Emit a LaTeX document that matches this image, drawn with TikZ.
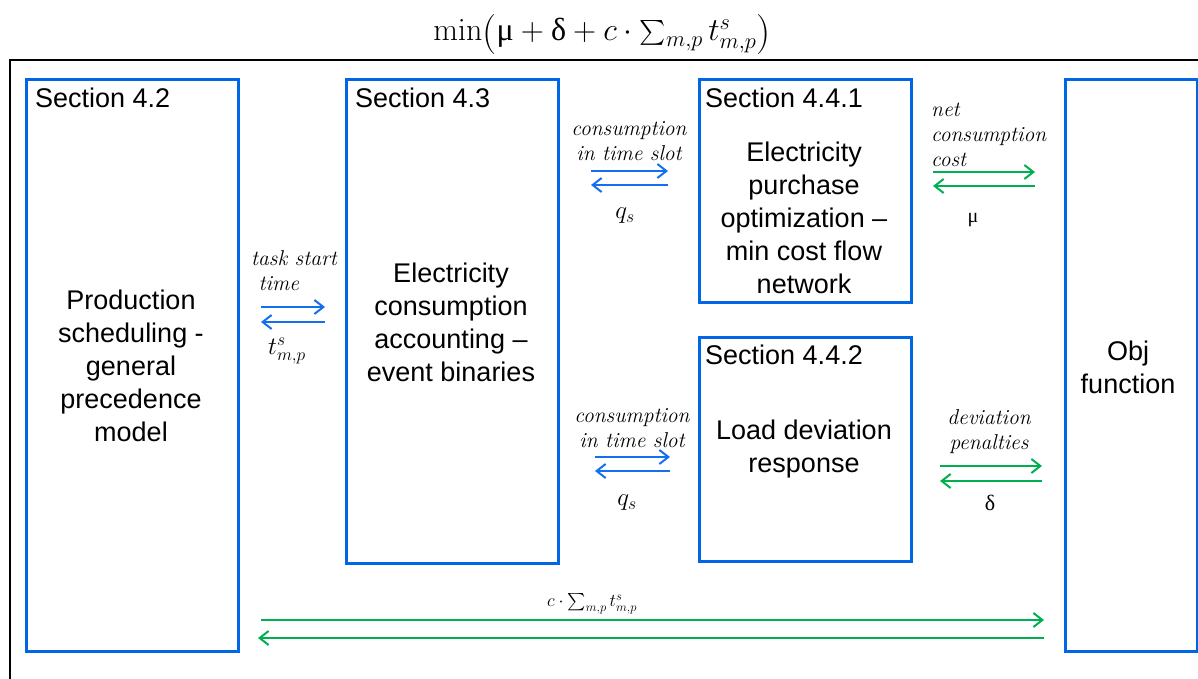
\RequirePackage{fix-cm}
\documentclass[tikz,border=0pt]{standalone}
\usepackage{amsmath}
\usepackage[no-math]{fontspec}
\setmainfont{Liberation Sans}
\newfontfamily\labfont{Latin Modern Roman}
\newfontfamily\grk{Liberation Serif}
\usetikzlibrary{arrows.meta,calc}
\definecolor{boxblue}{RGB}{0,102,230}
\definecolor{arrblue}{RGB}{20,110,240}
\definecolor{arrgreen}{RGB}{0,176,80}
\newcommand{\bigparen}[1]{\text{\raisebox{-4pt}{\labfont\fontsize{40}{40}\selectfont #1}}}
\begin{document}
\begin{tikzpicture}[x=1pt,y=-1pt,
  box/.style={draw=boxblue, line width=3pt, anchor=north west, inner sep=0pt},
  sec/.style={anchor=base west, inner sep=0pt, font=\fontsize{27}{33}\selectfont},
  body/.style={align=center, inner sep=0pt, font=\fontsize{27}{33}\selectfont},
  lab/.style={inner sep=0pt, font=\labfont\itshape\fontsize{21.5}{25}\selectfont},
  mlab/.style={inner sep=0pt, font=\fontsize{25}{28}\selectfont},
  barr/.style={draw=arrblue, line width=2pt, -{Straight Barb[length=9pt,width=14pt,line width=2pt]}},
  garr/.style={draw=arrgreen, line width=2pt, -{Straight Barb[length=9pt,width=14pt,line width=2pt]}}
]
\useasboundingbox (0,0) rectangle (1198,679);
% outer frame
\draw[line width=2.5pt] (1198,60) -- (10,60) -- (10,679);
% title
\node[inner sep=0pt, anchor=base, font=\fontsize{32}{36}\selectfont] (title) at (602,41)
  {$\min\mathopen{\bigparen{(}}\text{\grk μ}+\text{\grk δ}+c\cdot\sum_{m,p} t^{s}_{m,p}\mathclose{\bigparen{)}}$};
% boxes
\node[box, minimum width=212pt, minimum height=572pt] (A) at (25,78) {};
\node[box, minimum width=212pt, minimum height=484pt] (B) at (345,78) {};
\node[box, minimum width=212pt, minimum height=223pt] (C) at (698,78) {};
\node[box, minimum width=212pt, minimum height=224pt] (D) at (698,336) {};
\node[box, minimum width=132pt, minimum height=572pt] (E) at (1064,78) {};
% section labels
\node[sec] (sA) at (35,108) {Section 4.2};
\node[sec] (sB) at (355,108) {Section 4.3};
\node[sec] (sC) at (705,108) {Section 4.4.1};
\node[sec] (sD) at (705,364) {Section 4.4.2};
% body text
\node[body] (tA) at (131,366) {Production\\scheduling -\\general\\precedence\\model};
\node[body] (tB) at (451,322) {Electricity\\consumption\\accounting --\\event binaries};
\node[body] (tC) at (804,218) {Electricity\\purchase\\optimization --\\min cost flow\\network};
\node[body] (tD) at (804,449) {Load deviation\\response};
\node[body] (tE) at (1128,367) {Obj\\function};
% arrows A <-> B
\draw[barr, shorten <=21pt, shorten >=20pt] (A.east |- 0,307) -- (B.west |- 0,307);
\draw[barr, shorten <=20pt, shorten >=21pt] (B.west |- 0,322) -- (A.east |- 0,322);
\node[lab, anchor=west, align=left] (l1) at (251,271) {task start\\\ time};
\node[mlab] (m1) at (287,351) {$t^{s}_{m,p}$};
% arrows B <-> C
\draw[barr, shorten <=31pt, shorten >=30pt] (B.east |- 0,171) -- (C.west |- 0,171);
\draw[barr, shorten <=30pt, shorten >=31pt] (C.west |- 0,185) -- (B.east |- 0,185);
\node[lab, align=center] (l2) at (629,141) {consumption\\in time slot};
\node[mlab] (m2) at (625,216) {$q_{s}$};
% arrows C <-> E
\draw[garr, shorten <=20pt, shorten >=29pt] (C.east |- 0,172) -- (E.west |- 0,172);
\draw[garr, shorten <=29pt, shorten >=20pt] (E.west |- 0,186) -- (C.east |- 0,186);
\node[lab, anchor=west, align=left] (l3) at (931,135) {net\\consumption\\cost};
\node[mlab, font=\grk\fontsize{20}{24}\selectfont] (m3) at (973,220) {μ};
% arrows B <-> D
\draw[barr, shorten <=35pt, shorten >=28pt] (B.east |- 0,457) -- (D.west |- 0,457);
\draw[barr, shorten <=28pt, shorten >=35pt] (D.west |- 0,471) -- (B.east |- 0,471);
\node[lab, align=center] (l4) at (632,428) {consumption\\in time slot};
\node[mlab] (m4) at (627,503) {$q_{s}$};
% arrows D <-> E
\draw[garr, shorten <=27pt, shorten >=22pt] (D.east |- 0,466) -- (E.west |- 0,466);
\draw[garr, shorten <=22pt, shorten >=27pt] (E.west |- 0,481) -- (D.east |- 0,481);
\node[lab, align=center] (l5) at (989,432) {deviation\\penalties};
\node[mlab, font=\grk\fontsize{22}{24}\selectfont] (m5) at (990,503) {δ};
% arrows A <-> E
\draw[garr, shorten <=21pt, shorten >=20pt] (A.east |- 0,620) -- (E.west |- 0,620);
\draw[garr, shorten <=20pt, shorten >=18pt] (E.west |- 0,638) -- (A.east |- 0,638);
\node[inner sep=0pt, font=\fontsize{18}{20}\selectfont] (l6) at (592,604) {$c\cdot\sum_{m,p} t^{s}_{m,p}$};
\end{tikzpicture}
\end{document}
